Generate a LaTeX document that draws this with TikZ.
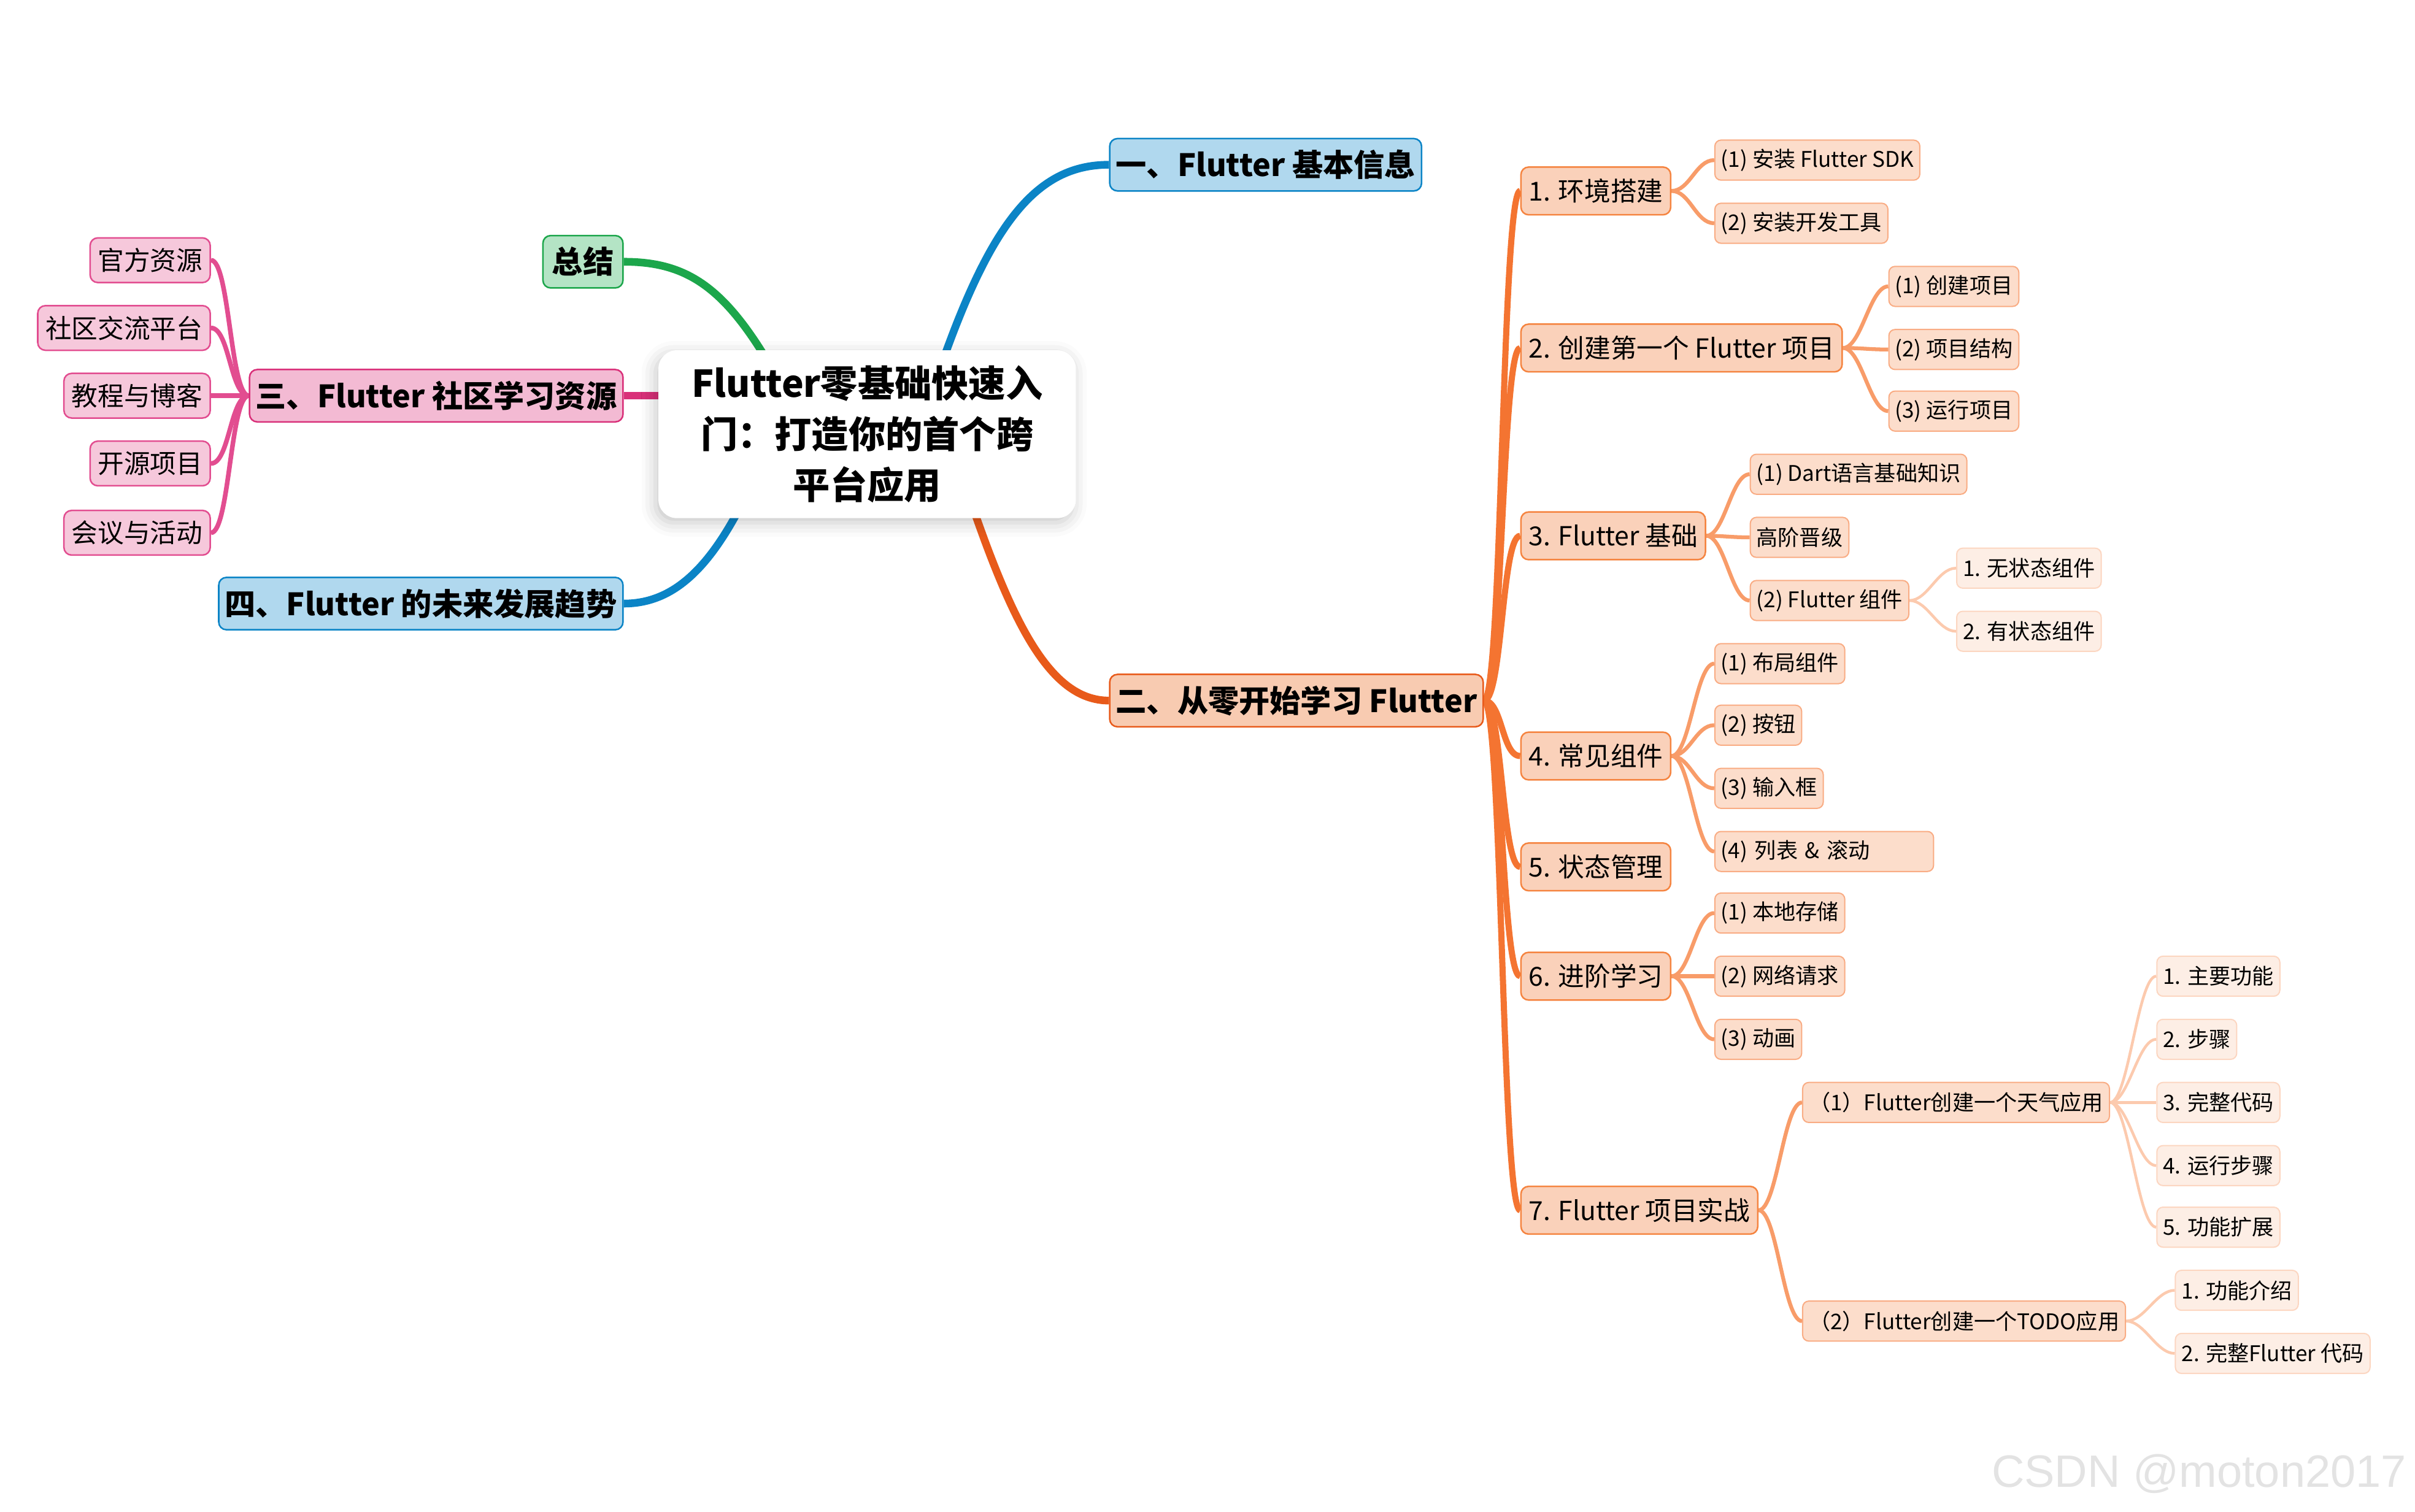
\documentclass[tikz,border=0pt]{standalone}
\usepackage{fontspec}
\setmainfont{Noto Sans CJK SC}
\newfontfamily\wmfont{Liberation Sans}
\usetikzlibrary{backgrounds,shadows.blur}

\definecolor{bluel}{HTML}{0B84C6}
\definecolor{bluef}{HTML}{B0D8EE}
\definecolor{greenl}{HTML}{1CA64B}
\definecolor{greenf}{HTML}{B4E4C5}
\definecolor{pinkl}{HTML}{D93079}
\definecolor{pinkf}{HTML}{F3BAD3}
\definecolor{pinkm}{HTML}{E24D90}
\definecolor{pinkc}{HTML}{F6C8DB}
\definecolor{orgl}{HTML}{E85A1A}
\definecolor{orgf}{HTML}{F8CBB1}
\definecolor{orgt}{HTML}{F47431}
\definecolor{orgs}{HTML}{FAD1BA}
\definecolor{orgsd}{HTML}{F58440}
\definecolor{orgk}{HTML}{F89C69}
\definecolor{orgkf}{HTML}{FCDDCB}
\definecolor{orgkd}{HTML}{F9AC84}
\definecolor{orgq}{HTML}{FCCAAE}
\definecolor{orgqf}{HTML}{FDEEE5}
\definecolor{orgqd}{HTML}{FCD6C1}

\begin{document}
\begin{tikzpicture}[x=1pt,y=-1pt,
    box/.style={rounded corners=5pt, line width=1pt, inner xsep=6pt, inner ysep=0pt},
    rootbox/.style={fill=white, rounded corners=12pt, minimum width=271pt, minimum height=109pt,
        align=center, font=\bfseries\fontsize{24}{33}\selectfont,
        blur shadow={shadow xshift=-2pt, shadow yshift=-3pt, shadow blur radius=9pt, shadow opacity=22}},
    lvlone/.style={box, minimum height=34pt, inner xsep=4pt, font=\bfseries\fontsize{20}{24}\selectfont},
    bluebox/.style={lvlone, fill=bluef, draw=bluel},
    pinkbox/.style={lvlone, fill=pinkf, draw=pinkl},
    orgbox/.style={lvlone, fill=orgf, draw=orgl},
    greenbox/.style={lvlone, inner xsep=6pt, fill=greenf, draw=greenl},
    pinkleaf/.style={box, minimum height=29pt, inner xsep=5pt, fill=pinkc, draw=pinkm,
        font=\fontsize{17}{20}\selectfont},
    lvltwo/.style={box, minimum height=31pt, inner xsep=5pt, fill=orgs, draw=orgsd,
        font=\fontsize{17}{20}\selectfont},
    lvlthree/.style={box, rounded corners=4pt, line width=0.8pt, minimum height=26pt, inner xsep=4pt,
        fill=orgkf, draw=orgkd, font=\fontsize{14}{17}\selectfont},
    lvlfour/.style={lvlthree, fill=orgqf, draw=orgqd}]

    \useasboundingbox (0,0) rectangle (1568,981.6);

    % centre
    \node[rootbox] (root) at (563,282) {Flutter零基础快速入\\门：打造你的首个跨\\平台应用};

    % main branches
    \node[bluebox, anchor=west] (s1) at (720,107) {一、Flutter 基本信息};
    \node[orgbox, anchor=west] (s2) at (720,455) {二、从零开始学习 Flutter};
    \node[pinkbox, anchor=east] (s3) at (405,257) {三、Flutter 社区学习资源};
    \node[bluebox, anchor=east] (s4) at (405,392) {四、Flutter 的未来发展趋势};
    \node[greenbox, anchor=east] (s5) at (405,170) {总结};

    % community resources
    \node[pinkleaf, anchor=east] (c31) at (137,169) {官方资源};
    \node[pinkleaf, anchor=east] (c32) at (137,213) {社区交流平台};
    \node[pinkleaf, anchor=east] (c33) at (137,257) {教程与博客};
    \node[pinkleaf, anchor=east] (c34) at (137,301) {开源项目};
    \node[pinkleaf, anchor=east] (c35) at (137,346) {会议与活动};

    % learning path
    \node[lvltwo, anchor=west] (a1) at (987,124) {1. 环境搭建};
    \node[lvltwo, anchor=west] (a2) at (987,226) {2. 创建第一个 Flutter 项目};
    \node[lvltwo, anchor=west] (a3) at (987,348) {3. Flutter 基础};
    \node[lvltwo, anchor=west] (a4) at (987,491) {4. 常见组件};
    \node[lvltwo, anchor=west] (a5) at (987,563) {5. 状态管理};
    \node[lvltwo, anchor=west] (a6) at (987,634) {6. 进阶学习};
    \node[lvltwo, anchor=west] (a7) at (987,786) {7. Flutter 项目实战};

    \node[lvlthree, anchor=west] (a11) at (1113,104) {(1) 安装 Flutter SDK};
    \node[lvlthree, anchor=west] (a12) at (1113,145) {(2) 安装开发工具};

    \node[lvlthree, anchor=west] (a21) at (1226,186) {(1) 创建项目};
    \node[lvlthree, anchor=west] (a22) at (1226,227) {(2) 项目结构};
    \node[lvlthree, anchor=west] (a23) at (1226,267) {(3) 运行项目};

    \node[lvlthree, anchor=west] (a31) at (1136,308) {(1) Dart语言基础知识};
    \node[lvlthree, anchor=west] (a32) at (1136,349) {高阶晋级};
    \node[lvlthree, anchor=west] (a33) at (1136,390) {(2) Flutter 组件};
    \node[lvlfour, anchor=west] (a331) at (1270,369) {1. 无状态组件};
    \node[lvlfour, anchor=west] (a332) at (1270,410) {2. 有状态组件};

    \node[lvlthree, anchor=west] (a41) at (1113,431) {(1) 布局组件};
    \node[lvlthree, anchor=west] (a42) at (1113,471) {(2) 按钮};
    \node[lvlthree, anchor=west] (a43) at (1113,512) {(3) 输入框};
    \node[lvlthree, anchor=west, text width=134pt, align=left] (a44) at (1113,553) {(4) 列表 \& 滚动};

    \node[lvlthree, anchor=west] (a61) at (1113,593) {(1) 本地存储};
    \node[lvlthree, anchor=west] (a62) at (1113,634) {(2) 网络请求};
    \node[lvlthree, anchor=west] (a63) at (1113,675) {(3) 动画};

    \node[lvlthree, anchor=west] (a71) at (1170,716) {（1）Flutter创建一个天气应用};
    \node[lvlthree, anchor=west] (a72) at (1170,858) {（2）Flutter创建一个TODO应用};
    \node[lvlfour, anchor=west] (b1) at (1400,634) {1. 主要功能};
    \node[lvlfour, anchor=west] (b2) at (1400,675) {2. 步骤};
    \node[lvlfour, anchor=west] (b3) at (1400,716) {3. 完整代码};
    \node[lvlfour, anchor=west] (b4) at (1400,757) {4. 运行步骤};
    \node[lvlfour, anchor=west] (b5) at (1400,797) {5. 功能扩展};
    \node[lvlfour, anchor=west] (b6) at (1412,838) {1. 功能介绍};
    \node[lvlfour, anchor=west] (b7) at (1412,879) {2. 完整Flutter 代码};

    % watermark
    \node[anchor=east, text=black!11, font=\wmfont\fontsize{29.5}{30}\selectfont] (wm) at (1566,957) {CSDN @moton2017};

    \begin{scope}[on background layer]
        % from the centre
        \draw[bluel, line width=5pt] ([shift={(42,-27)}]root.center) .. controls (640,150) and (670,107) .. (s1.west);
        \draw[greenl, line width=5pt] ([shift={(-53,-27)}]root.center) .. controls (475,190) and (450,170) .. (s5.east);
        \draw[bluel, line width=5pt] ([shift={(-73,28)}]root.center) .. controls (465,365) and (440,392) .. (s4.east);
        \draw[orgl, line width=5pt] ([shift={(62,28)}]root.center) .. controls (655,400) and (680,455) .. (s2.west);
        \draw[pinkl, line width=5pt] ([xshift=10pt]root.west |- s3.east) -- (s3.east);

        \foreach \c in {c31,c32,c33,c34,c35}
            \draw[pinkm, line width=3pt] (s3.west) .. controls +(-12,0) and +(12,0) .. (\c.east);

        \foreach \c in {a1,a2,a3,a4,a5,a6,a7}
            \draw[orgt, line width=4pt] (s2.east) .. controls +(12,0) and +(-12,0) .. (\c.west);

        % level three
        \foreach \p/\c in {a1/a11,a1/a12,a2/a21,a2/a22,a2/a23,a3/a31,a3/a32,a3/a33,
                a4/a41,a4/a42,a4/a43,a4/a44,a6/a61,a6/a62,a6/a63,a7/a71,a7/a72}
            \draw[orgk, line width=2.5pt] (\p.east) .. controls +(12,0) and +(-12,0) .. (\c.west);

        % level four
        \foreach \p/\c in {a33/a331,a33/a332,a71/b1,a71/b2,a71/b3,a71/b4,a71/b5,a72/b6,a72/b7}
            \draw[orgq, line width=1.8pt] (\p.east) .. controls +(12,0) and +(-12,0) .. (\c.west);
    \end{scope}
\end{tikzpicture}
\end{document}
